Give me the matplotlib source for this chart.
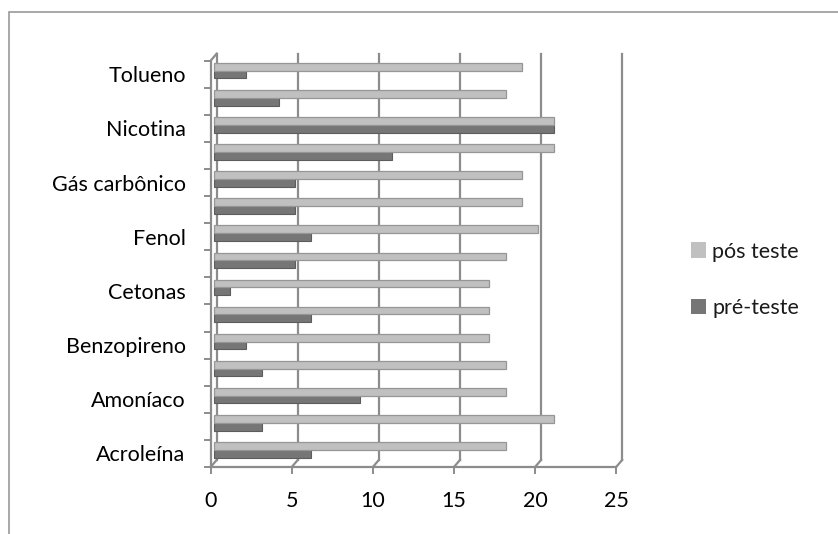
import matplotlib
matplotlib.use("Agg")
import matplotlib.pyplot as plt
import matplotlib.transforms as mtransforms
from matplotlib.patches import Patch, Rectangle

# categories bottom -> top; the chart only prints every other label
categories = ["Acroleína", "", "Amoníaco", "", "Benzopireno", "", "Cetonas", "",
              "Fenol", "", "Gás carbônico", "", "Nicotina", "", "Tolueno"]
pos_teste = [18, 21, 18, 18, 17, 17, 17, 18, 20, 19, 19, 21, 21, 18, 19]
pre_teste = [6, 3, 9, 3, 2, 6, 1, 5, 6, 5, 5, 11, 21, 4, 2]
x_ticks = [0, 5, 10, 15, 20, 25]

GRID = "#8c8c8c"
C_POS = "#c0c0c0"
C_PRE = "#767676"
# depth of the pseudo-3D box, in data units (x, y)
DX, DY = 0.37, 0.26

plt.rcParams["font.family"] = ["Lato", "DejaVu Sans"]
plt.rcParams["font.size"] = 15.5
plt.rcParams["text.color"] = "#1a1a1a"

fig = plt.figure(figsize=(8.38, 5.34), dpi=100)
ax = fig.add_axes([0.2514, 0.1255, 0.4839, 0.7609])
ax.set_xlim(0, 25)
ax.set_ylim(-0.5, len(categories) - 0.5)
ax.patch.set_visible(False)

# outer chart frame (only top and left edges fall inside the image)
fig.patches.append(Rectangle((9 / 838, -0.5), 2, 1.5 - 12 / 534,
                             transform=fig.transFigure, fill=False,
                             edgecolor="#9a9a9a", lw=1.2))

lo, hi = -0.5, len(categories) - 0.5
back = mtransforms.Affine2D().translate(DX, DY) + ax.transData
# back wall gridlines
for v in x_ticks:
    ax.plot([v, v], [lo, hi], color=GRID, lw=1.6, transform=back,
            clip_on=False, zorder=1)
    # floor edges joining front axis to back wall
    ax.plot([v, v + DX], [lo, lo + DY], color=GRID, lw=1.6,
            clip_on=False, zorder=1)
# top-left corner of the side wall
ax.plot([0, DX], [hi, hi + DY], color=GRID, lw=1.6, clip_on=False, zorder=1)

# bars sit halfway into the box
mid = mtransforms.Affine2D().translate(DX / 2, DY / 2) + ax.transData
h = 0.286
ys = list(range(len(categories)))
ax.barh([y - h / 2 for y in ys], pre_teste, height=h, color=C_PRE,
        edgecolor="#5c5c5c", lw=0.8, transform=mid, zorder=3,
        label="pré-teste")
ax.barh([y + h / 2 for y in ys], pos_teste, height=h, color=C_POS,
        edgecolor="#969696", lw=0.9, transform=mid, zorder=3,
        label="pós teste")

for s in ("top", "right"):
    ax.spines[s].set_visible(False)
for s in ("left", "bottom"):
    ax.spines[s].set_color(GRID)
    ax.spines[s].set_linewidth(1.6)

ax.set_yticks(ys)
ax.set_yticklabels(categories)
ax.set_yticks([y - 0.5 for y in range(len(categories) + 1)], minor=True)
ax.tick_params(axis="y", which="major", length=0, pad=18)
ax.tick_params(axis="y", which="minor", length=5, width=1.4, color=GRID)
ax.set_xticks(x_ticks)
ax.tick_params(axis="x", length=5, width=1.4, color=GRID, pad=12)

handles = [Patch(facecolor=C_POS, label="pós teste"),
           Patch(facecolor=C_PRE, label="pré-teste")]
fig.legend(handles=handles, loc="center left", bbox_to_anchor=(0.801, 0.476),
           frameon=False, handlelength=0.7, handleheight=0.7,
           handletextpad=0.3, labelspacing=1.7)

fig.savefig("out.png", dpi=100)
